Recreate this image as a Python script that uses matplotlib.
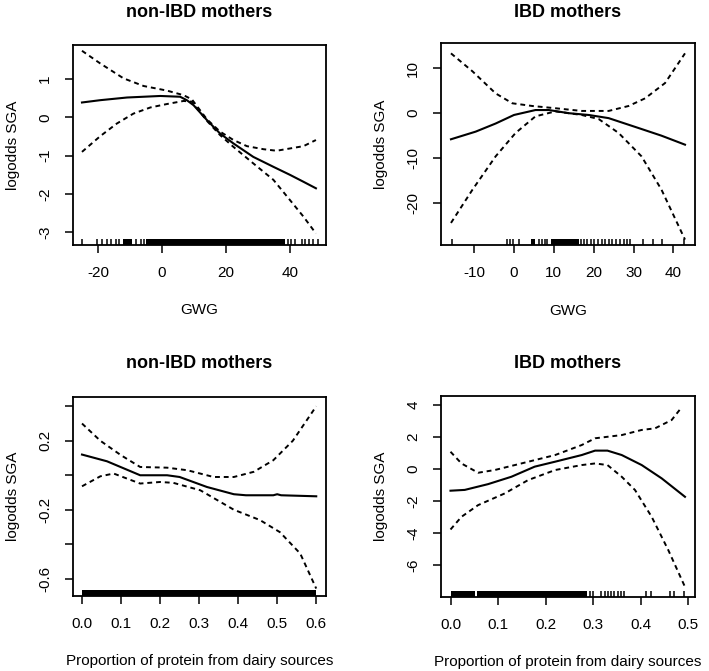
import matplotlib
matplotlib.use('Agg')
import matplotlib.pyplot as plt
from matplotlib.transforms import blended_transform_factory

plt.rcParams['font.family'] = ['Liberation Sans', 'DejaVu Sans']
plt.rcParams['axes.unicode_minus'] = False

# ---- Panel 1: non-IBD mothers, GWG ----
gwg_non_x = [-25, -19.3, -10.9, -0.5, 5.7, 7.8, 9.9, 14.1, 18.2, 22.4, 28.6, 34.9, 40.1, 44.3, 48.2]
gwg_non_fit = [0.39, 0.45, 0.52, 0.56, 0.54, 0.45, 0.32, -0.07, -0.42, -0.68, -1.03, -1.29, -1.5, -1.68, -1.85]
gwg_non_up_x = [-25, -19.3, -12, -5.7, 1.6, 6.8, 9.4, 14.1, 18.2, 22.4, 26.6, 31.8, 35.9, 40.1, 44.3, 48.2]
gwg_non_up = [1.74, 1.41, 1.02, 0.82, 0.70, 0.58, 0.47, -0.05, -0.37, -0.59, -0.75, -0.83, -0.87, -0.81, -0.75, -0.59]
gwg_non_lo_x = [-25, -19.3, -14.1, -8.9, -3.6, 1.6, 6.8, 9.4, 14.1, 18.2, 22.4, 28.6, 34.9, 40.1, 44.3, 48.2]
gwg_non_lo = [-0.9, -0.49, -0.16, 0.1, 0.26, 0.35, 0.43, 0.41, -0.09, -0.46, -0.77, -1.2, -1.63, -2.16, -2.59, -3.03]
gwg_non_rug = [-24.9, -20.2, -18.6, -17.3, -16.0, -14.5, -13.4, -11.8, -10.8, -9.7, -8.2, -6.6, -5.5,
               39.5, 40.5, 41.8, 43.7, 44.7, 46.0, 47.3, 48.7]
gwg_non_rug_dense = [(-12.2, -9.4), (-5.0, 38.4)]

# ---- Panel 2: IBD mothers, GWG ----
gwg_ibd_x = [-15.8, -9.6, -4.6, 0, 5.4, 8.75, 13.75, 18.75, 23.75, 31.25, 37, 42.9]
gwg_ibd_fit = [-5.8, -4.1, -2.3, -0.4, 0.7, 0.7, 0.0, -0.4, -1.1, -3.3, -5.0, -7.0]
gwg_ibd_up_x = [-15.8, -10.4, -4.6, -0.4, 4.6, 10.4, 17, 23.75, 28.75, 32.9, 37.9, 42.9]
gwg_ibd_up = [13.3, 9.3, 4.4, 2.2, 1.6, 1.1, 0.5, 0.5, 1.6, 3.3, 6.7, 13.3]
gwg_ibd_lo_x = [-15.8, -10.4, -4.6, 0.4, 5.4, 10.4, 17, 21.25, 26.25, 32, 37, 42.9]
gwg_ibd_lo = [-24.4, -17.0, -9.6, -4.4, -0.7, 0.4, -0.4, -1.3, -4.4, -9.6, -17.0, -28.1]
gwg_ibd_rug = [-15.6, -1.7, -1.0, -0.25, 1.25, 6.25, 7.1, 7.75, 8.3, 16.9, 17.5, 18.3, 19.2, 20.0,
               21.1, 22.1, 22.9, 23.75, 24.6, 25.6, 26.7, 27.5, 28.3, 29.2, 32.25, 35.0, 37.1, 42.75]
gwg_ibd_rug_dense = [(4.2, 5.4), (9.2, 16.25)]

# ---- Panel 3: non-IBD mothers, dairy protein ----
dairy_non_x = [0, 0.064, 0.149, 0.218, 0.25, 0.32, 0.389, 0.42, 0.49, 0.5, 0.51, 0.6]
dairy_non_fit = [0.12, 0.081, 0.0, 0.0, -0.01, -0.068, -0.11, -0.116, -0.116, -0.11, -0.116, -0.122]
dairy_non_up_x = [0, 0.047, 0.1, 0.149, 0.218, 0.27, 0.337, 0.389, 0.44, 0.49, 0.54, 0.6]
dairy_non_up = [0.3, 0.2, 0.116, 0.048, 0.044, 0.029, -0.01, -0.01, 0.02, 0.087, 0.2, 0.4]
dairy_non_lo_x = [0, 0.047, 0.081, 0.149, 0.2, 0.234, 0.303, 0.389, 0.456, 0.507, 0.559, 0.6]
dairy_non_lo = [-0.064, -0.006, 0.01, -0.048, -0.039, -0.044, -0.087, -0.2, -0.26, -0.33, -0.454, -0.657]
dairy_non_rug = []
dairy_non_rug_dense = [(0.0, 0.6)]

# ---- Panel 4: IBD mothers, dairy protein ----
dairy_ibd_x = [0, 0.03, 0.079, 0.128, 0.177, 0.22, 0.276, 0.304, 0.33, 0.36, 0.402, 0.444, 0.493]
dairy_ibd_fit = [-1.35, -1.3, -0.94, -0.48, 0.15, 0.46, 0.875, 1.15, 1.15, 0.875, 0.25, -0.58, -1.73]
dairy_ibd_up_x = [0, 0.023, 0.058, 0.093, 0.149, 0.22, 0.276, 0.304, 0.36, 0.402, 0.43, 0.465, 0.486]
dairy_ibd_up = [1.08, 0.35, -0.23, -0.06, 0.35, 0.875, 1.5, 1.92, 2.12, 2.44, 2.54, 3.06, 3.85]
dairy_ibd_lo_x = [0, 0.023, 0.058, 0.114, 0.163, 0.22, 0.276, 0.304, 0.33, 0.36, 0.388, 0.423, 0.458, 0.493]
dairy_ibd_lo = [-3.77, -2.98, -2.25, -1.52, -0.69, -0.06, 0.25, 0.35, 0.25, -0.48, -1.31, -2.98, -5.06, -7.35]
dairy_ibd_rug = [0.293, 0.3, 0.317, 0.324, 0.331, 0.337, 0.344, 0.352, 0.358, 0.365,
                 0.412, 0.422, 0.461, 0.47, 0.491]
dairy_ibd_rug_dense = [(0.0, 0.052), (0.056, 0.286)]

panels = [
    dict(title='non-IBD mothers', xlabel='GWG',
         x=gwg_non_x, fit=gwg_non_fit, ux=gwg_non_up_x, up=gwg_non_up, lx=gwg_non_lo_x, lo=gwg_non_lo,
         rug=gwg_non_rug, dense=gwg_non_rug_dense,
         xlim=(-27.8, 51.35), ylim=(-3.33, 1.89),
         xticks=[-20, 0, 20, 40], yticks=[-3, -2, -1, 0, 1], ylabels=['-3', '-2', '-1', '0', '1'],
         pos=[0.103, 0.6349, 0.3568, 0.298], title_y=0.9747),
    dict(title='IBD mothers', xlabel='GWG',
         x=gwg_ibd_x, fit=gwg_ibd_fit, ux=gwg_ibd_up_x, up=gwg_ibd_up, lx=gwg_ibd_lo_x, lo=gwg_ibd_lo,
         rug=gwg_ibd_rug, dense=gwg_ibd_rug_dense,
         xlim=(-18.3, 45.4), ylim=(-29.3, 15.6),
         xticks=[-10, 0, 10, 20, 30, 40], yticks=[-20, -10, 0, 10], ylabels=['-20', '-10', '0', '10'],
         pos=[0.622, 0.6349, 0.3582, 0.301], title_y=0.9747),
    dict(title='non-IBD mothers', xlabel='Proportion of protein from dairy sources',
         x=dairy_non_x, fit=dairy_non_fit, ux=dairy_non_up_x, up=dairy_non_up, lx=dairy_non_lo_x, lo=dairy_non_lo,
         rug=dairy_non_rug, dense=dairy_non_rug_dense,
         xlim=(-0.023, 0.625), ylim=(-0.70, 0.454),
         xticks=[0.0, 0.1, 0.2, 0.3, 0.4, 0.5, 0.6],
         yticks=[-0.6, -0.4, -0.2, 0.0, 0.2, 0.4], ylabels=['-0.6', '', '-0.2', '', '0.2', ''],
         pos=[0.103, 0.1118, 0.3568, 0.2966], title_y=0.4516),
    dict(title='IBD mothers', xlabel='Proportion of protein from dairy sources',
         x=dairy_ibd_x, fit=dairy_ibd_fit, ux=dairy_ibd_up_x, up=dairy_ibd_up, lx=dairy_ibd_lo_x, lo=dairy_ibd_lo,
         rug=dairy_ibd_rug, dense=dairy_ibd_rug_dense,
         xlim=(-0.02, 0.514), ylim=(-7.98, 4.56),
         xticks=[0.0, 0.1, 0.2, 0.3, 0.4, 0.5],
         yticks=[-6, -4, -2, 0, 2, 4], ylabels=['-6', '-4', '-2', '0', '2', '4'],
         pos=[0.622, 0.1103, 0.3582, 0.2996], title_y=0.4516),
]

fig = plt.figure(figsize=(7.09, 6.71), dpi=100)

for p in panels:
    ax = fig.add_axes(p['pos'])
    ax.plot(p['x'], p['fit'], color='black', lw=1.5)
    ax.plot(p['ux'], p['up'], color='black', lw=1.4, ls=(0, (2.5, 2)))
    ax.plot(p['lx'], p['lo'], color='black', lw=1.4, ls=(0, (2.5, 2)))

    # rug along the bottom
    trans = blended_transform_factory(ax.transData, ax.transAxes)
    ax.vlines(p['rug'], 0, 0.032, transform=trans, color='black', lw=1.1)
    for a, b in p['dense']:
        ax.axvspan(a, b, ymin=0, ymax=0.032, color='black', lw=0)

    ax.set_xlim(*p['xlim'])
    ax.set_ylim(*p['ylim'])
    ax.set_xticks(p['xticks'])
    ax.set_xticklabels([f'{t:g}' if isinstance(t, int) else f'{t:.1f}' for t in p['xticks']])
    ax.set_yticks(p['yticks'])
    ax.set_yticklabels(p['ylabels'], rotation=90, va='center')
    ax.tick_params(direction='out', length=6, width=1.1, labelsize=11, pad=9, colors='black')
    for s in ax.spines.values():
        s.set_linewidth(1.3)

    cx = p['pos'][0] + p['pos'][2] / 2
    fig.text(cx, p['title_y'], p['title'], ha='center', va='baseline',
             fontsize=13, fontweight='bold')
    ax.text(0.5, -0.325, p['xlabel'], transform=ax.transAxes, ha='center', va='center', fontsize=11)
    ax.text(-0.237, 0.5, 'logodds SGA', transform=ax.transAxes, ha='center', va='center',
            rotation=90, fontsize=11)

fig.savefig('out.png', dpi=100)
